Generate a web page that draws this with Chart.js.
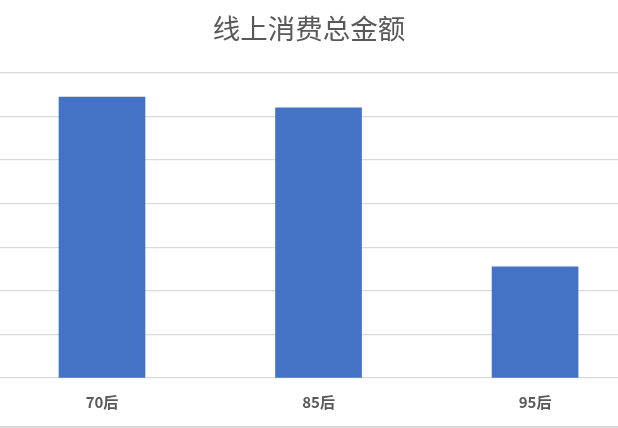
<!DOCTYPE html>
<html>
<head>
<meta charset="utf-8">
<script src="https://cdn.jsdelivr.net/npm/chart.js@4"></script>
<style>
  html, body { margin: 0; padding: 0; background: #fff; }
  #wrap { position: relative; width: 618px; height: 428px; overflow: hidden; }
  #bottomLine { position: absolute; left: 0; top: 426px; width: 618px; height: 2px; background: #d9d9d9; }
</style>
</head>
<body>
<div id="wrap">
  <canvas id="chart" width="618" height="428"></canvas>
  <div id="bottomLine"></div>
</div>
<script>
"use strict";

// data
var groups = ["70后", "85后", "95后"];
var amounts = [6.45, 6.2, 2.55];
var yTicks = [0, 1, 2, 3, 4, 5, 6, 7];

var points = groups.map(function (g, i) {
  return { x: i, y: amounts[i] };
});

var ctx = document.getElementById("chart").getContext("2d");
var chart = new Chart(ctx, {
  type: "bar",
  data: {
    datasets: [
      {
        label: "线上消费总金额",
        data: points,
        backgroundColor: "#4472C4",
        barThickness: 86,
      },
    ],
  },
  options: {
    responsive: false,
    animation: false,
    layout: { padding: { left: 0, right: 0, top: 0, bottom: 2 } },
    plugins: {
      legend: { display: false },
      tooltip: { enabled: false },
      title: {
        display: true,
        text: "线上消费总金额",
        color: "#595959",
        font: { family: "'Noto Sans CJK SC', sans-serif", size: 27.5, weight: "normal" },
        padding: { top: 12.5, bottom: 27.5 },
      },
    },
    scales: {
      x: {
        type: "linear",
        offset: false,
        min: -0.471,
        max: 2.383,
        grid: { display: false, drawTicks: false },
        border: { display: false },
        afterBuildTicks: function (scale) {
          scale.ticks = groups.map(function (g, i) {
            return { value: i };
          });
        },
        ticks: {
          padding: 15,
          color: "#595959",
          font: { family: "'Noto Sans CJK SC', sans-serif", size: 15, weight: "bold" },
          callback: function (value) {
            return groups[value];
          },
        },
      },
      y: {
        min: yTicks[0],
        max: yTicks[yTicks.length - 1],
        ticks: { display: false, stepSize: 1 },
        border: { display: false },
        grid: { color: "#d9d9d9", lineWidth: 1.3, drawTicks: false },
      },
    },
  },
});
</script>
</body>
</html>
